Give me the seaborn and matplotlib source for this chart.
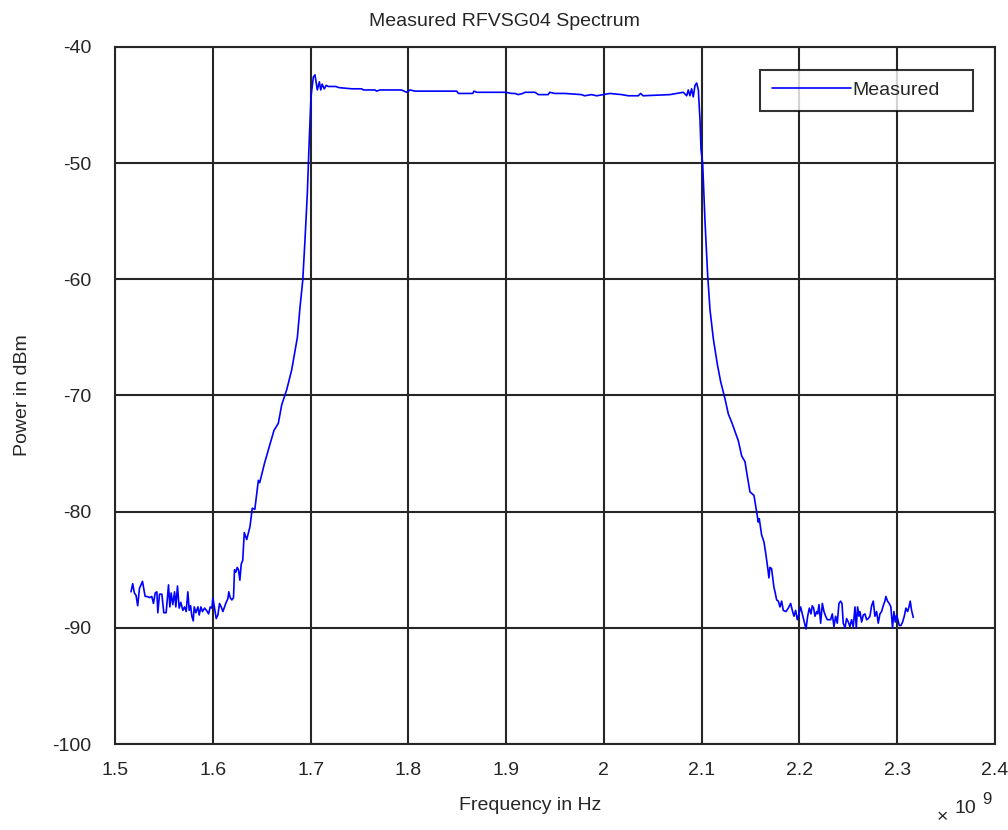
import numpy as np
import pandas as pd
import matplotlib
matplotlib.use("Agg")
import matplotlib.pyplot as plt
import seaborn as sns

# Measured spectrum (frequency in MHz, power in dBm)
freq_mhz = [
    1516.4, 1518.1, 1519.8, 1521.5, 1523.2, 1525.0, 1528.1, 1530.8, 1532.9, 1535.3,
    1537.6, 1539.3, 1541.1, 1542.8, 1543.8, 1545.5, 1547.9, 1549.9, 1552.3, 1554.7,
    1556.1, 1557.4, 1559.1, 1560.9, 1562.2, 1563.9, 1565.6, 1567.3, 1569.4, 1571.1,
    1572.8, 1574.5, 1575.9, 1577.3, 1578.6, 1580.0, 1581.0, 1582.7, 1584.8, 1586.1,
    1587.8, 1589.5, 1591.6, 1593.6, 1595.7, 1597.4, 1599.1, 1600.1, 1601.8, 1603.5,
    1605.2, 1606.9, 1608.6, 1610.3, 1612.0, 1613.7, 1615.4, 1616.4, 1617.8, 1619.5,
    1621.2, 1622.2, 1623.6, 1625.0, 1626.3, 1627.7, 1629.1, 1630.6, 1632.2, 1634.7,
    1638.0, 1640.4, 1643.0, 1646.6, 1648.0, 1653.0, 1657.8, 1662.6, 1667.0, 1670.5,
    1675.6, 1680.7, 1686.5, 1689.2, 1692.0, 1694.3, 1696.7, 1698.4, 1700.4, 1702.8,
    1704.5, 1706.9, 1709.0, 1710.4, 1711.8, 1714.0, 1716.0, 1718.0, 1725.7, 1729.1,
    1742.1, 1752.3, 1754.0, 1765.9, 1767.5, 1771.0, 1789.7, 1793.0, 1798.3, 1801.7,
    1806.8, 1849.5, 1851.2, 1865.8, 1867.2, 1870.0, 1899.0, 1905.7, 1909.0, 1912.5,
    1917.0, 1919.3, 1929.5, 1933.0, 1943.0, 1944.6, 1949.8, 1960.2, 1977.0, 1980.4,
    1987.2, 1992.6, 1999.4, 2006.2, 2018.2, 2025.0, 2035.2, 2037.6, 2040.0, 2067.6,
    2074.4, 2081.2, 2084.7, 2086.3, 2088.0, 2089.7, 2091.4, 2093.2, 2094.9, 2096.6,
    2098.3, 2099.3, 2101.0, 2103.4, 2106.1, 2108.5, 2111.9, 2116.0, 2119.4, 2123.9,
    2127.3, 2130.7, 2134.1, 2137.5, 2140.9, 2144.3, 2146.6, 2149.4, 2153.5, 2156.2,
    2157.9, 2158.9, 2161.3, 2163.7, 2165.7, 2167.5, 2168.8, 2169.8, 2171.5, 2173.9,
    2175.0, 2176.7, 2178.4, 2180.1, 2181.8, 2183.5, 2186.2, 2188.6, 2191.0, 2192.7,
    2194.4, 2196.1, 2197.8, 2199.5, 2201.2, 2202.9, 2205.0, 2206.7, 2208.4, 2210.1,
    2211.8, 2213.1, 2214.5, 2215.9, 2217.6, 2218.6, 2220.0, 2221.7, 2223.4, 2225.1,
    2226.8, 2228.5, 2230.2, 2231.9, 2233.6, 2235.3, 2237.0, 2238.7, 2240.4, 2242.1,
    2243.5, 2244.8, 2246.6, 2248.2, 2250.0, 2251.6, 2253.3, 2255.0, 2256.8, 2258.1,
    2259.5, 2260.9, 2261.9, 2263.6, 2265.3, 2267.0, 2268.7, 2270.4, 2272.1, 2273.8,
    2275.5, 2277.2, 2278.9, 2280.6, 2282.3, 2284.0, 2285.7, 2287.4, 2288.4, 2290.1,
    2291.8, 2293.5, 2295.2, 2296.6, 2298.0, 2299.3, 2300.7, 2302.1, 2303.8, 2305.5,
    2307.2, 2308.9, 2310.6, 2312.0, 2313.3, 2314.7, 2316.4,
]
power_dbm = [
    -86.9, -86.2, -87.0, -87.2, -88.1, -86.6, -86.0, -87.3, -87.3, -87.4,
    -87.3, -87.9, -87.0, -86.9, -88.7, -87.1, -87.1, -88.7, -88.7, -86.3,
    -88.2, -87.0, -88.0, -86.9, -88.2, -86.4, -88.3, -87.8, -88.5, -88.2,
    -88.6, -86.9, -88.5, -88.1, -89.0, -89.4, -88.2, -88.7, -88.2, -88.9,
    -88.2, -88.6, -88.3, -88.5, -88.8, -88.2, -88.3, -87.4, -88.3, -89.2,
    -88.9, -87.9, -88.2, -88.6, -88.2, -87.8, -87.5, -86.9, -87.4, -87.6,
    -87.4, -85.0, -85.2, -84.8, -85.0, -85.9, -84.5, -84.2, -81.8, -82.4,
    -81.3, -79.7, -79.8, -77.3, -77.5, -75.8, -74.4, -73.0, -72.4, -70.8,
    -69.5, -67.8, -65.0, -62.4, -60.1, -56.6, -52.6, -48.6, -44.3, -42.6,
    -42.4, -43.7, -43.0, -43.7, -43.2, -43.6, -43.3, -43.4, -43.4, -43.5,
    -43.6, -43.6, -43.7, -43.7, -43.8, -43.7, -43.7, -43.7, -43.9, -43.7,
    -43.8, -43.8, -44.0, -44.0, -43.8, -43.9, -43.9, -44.0, -44.0, -44.1,
    -44.0, -43.9, -43.9, -44.1, -44.1, -43.9, -44.0, -44.0, -44.1, -44.2,
    -44.1, -44.2, -44.1, -44.0, -44.1, -44.2, -44.2, -44.0, -44.2, -44.1,
    -44.0, -43.9, -44.2, -43.7, -44.2, -43.6, -44.3, -43.3, -43.1, -43.7,
    -46.3, -48.8, -50.0, -55.0, -59.6, -62.6, -65.1, -67.3, -68.8, -70.3,
    -71.6, -72.3, -73.1, -73.9, -75.2, -75.7, -76.9, -78.3, -78.6, -80.0,
    -80.9, -80.6, -82.0, -82.6, -83.7, -84.8, -85.7, -84.8, -84.9, -86.5,
    -86.9, -87.6, -87.7, -88.2, -87.7, -88.5, -88.6, -88.3, -87.9, -88.5,
    -89.0, -88.5, -89.3, -88.8, -88.2, -88.8, -89.5, -90.1, -89.0, -88.3,
    -88.8, -88.1, -88.3, -89.0, -88.6, -88.8, -88.0, -89.6, -87.9, -88.6,
    -89.0, -89.3, -89.3, -89.3, -88.8, -89.9, -89.0, -89.6, -87.9, -87.7,
    -87.9, -89.6, -90.0, -89.2, -89.5, -89.9, -89.3, -89.9, -88.2, -90.0,
    -88.2, -89.0, -88.6, -89.5, -88.9, -88.8, -89.3, -89.2, -89.0, -88.1,
    -87.7, -89.0, -88.6, -89.6, -88.8, -88.6, -88.1, -87.7, -87.3, -87.7,
    -87.9, -88.2, -90.0, -88.6, -89.5, -88.9, -89.3, -89.8, -89.8, -89.5,
    -89.0, -88.3, -88.6, -88.2, -87.7, -88.5, -89.1,
]

x_ticks_ghz = [1.5, 1.6, 1.7, 1.8, 1.9, 2.0, 2.1, 2.2, 2.3, 2.4]
x_tick_labels = ["1.5", "1.6", "1.7", "1.8", "1.9", "2", "2.1", "2.2", "2.3", "2.4"]
y_ticks = [-100, -90, -80, -70, -60, -50, -40]

df = pd.DataFrame({"freq": np.array(freq_mhz) * 1e6, "power": power_dbm})

sns.set_style("white")
plt.rcParams["font.family"] = ["Liberation Sans", "DejaVu Sans"]

fig = plt.figure(figsize=(10.08, 8.30), dpi=100)
ax = fig.add_axes([0.1141, 0.1036, 0.8730, 0.8398])

sns.lineplot(data=df, x="freq", y="power", ax=ax, color="#0000ff",
             linewidth=1.2, estimator=None, sort=False, label="Measured")

ax.set_xlim(1.5e9, 2.4e9)
ax.set_ylim(-100, -40)
ax.set_xticks([v * 1e9 for v in x_ticks_ghz])
ax.set_xticklabels(x_tick_labels)
ax.set_yticks(y_ticks)
ax.set_yticklabels([str(v) for v in y_ticks])
ax.tick_params(axis="both", length=0, labelsize=14, colors="#262626")
ax.tick_params(axis="x", pad=13)
ax.tick_params(axis="y", pad=17)
ax.grid(True, color="#262626", linewidth=1.5)
for sp in ax.spines.values():
    sp.set_color("#262626")
    sp.set_linewidth(1.5)

ax.set_title("Measured RFVSG04 Spectrum", fontsize=14, x=0.443, pad=15)
ax.set_xlabel("Frequency in Hz", fontsize=14)
ax.set_ylabel("Power in dBm", fontsize=14)
ax.xaxis.set_label_coords(0.4716, -0.076)
ax.yaxis.set_label_coords(-0.096, 0.5)

# exponent marker, bottom right
ax.text(0.940, -0.106, "\u00d7", transform=ax.transAxes, fontsize=14,
        ha="center", va="center", color="#262626")
ax.text(0.9545, -0.092, "10", transform=ax.transAxes, fontsize=14,
        ha="left", va="center", color="#262626")
ax.text(0.986, -0.080, "9", transform=ax.transAxes, fontsize=12,
        ha="left", va="center", color="#262626")

leg = ax.legend(loc="upper left", bbox_to_anchor=(0.733, 0.910, 0.242, 0.057),
                mode="expand", fontsize=14, handlelength=4.1, handletextpad=0.05,
                borderaxespad=0, borderpad=0.6, fancybox=False, frameon=True)
leg.get_frame().set_edgecolor("black")
leg.get_frame().set_linewidth(1.5)

fig.savefig("out.png", dpi=100, facecolor="white")
